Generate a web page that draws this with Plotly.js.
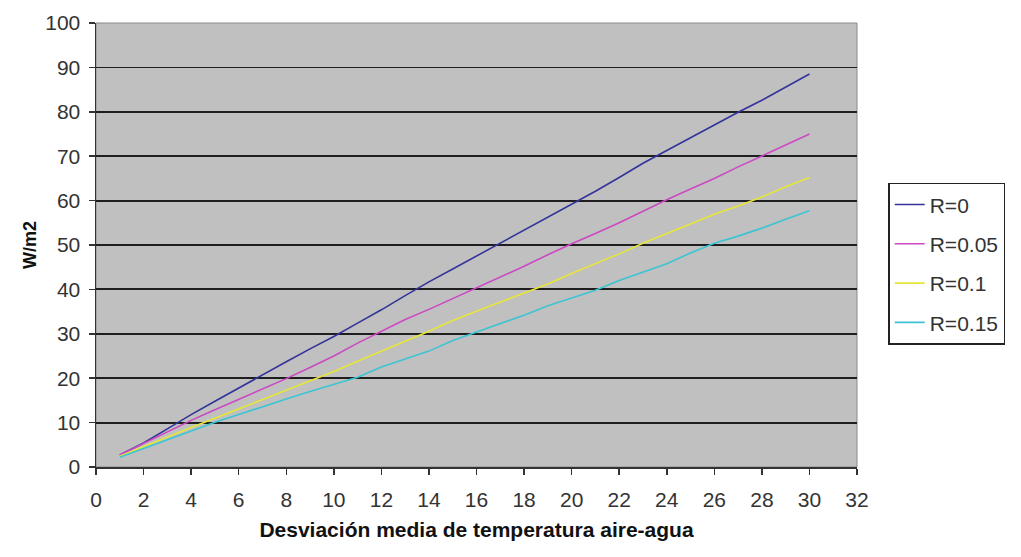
<!DOCTYPE html>
<html>
<head>
<meta charset="utf-8">
<script src="https://cdn.plot.ly/plotly-3.0.1.min.js"></script>
<style>
html,body{margin:0;padding:0;background:#fff;}
#chart{width:1021px;height:557px;}
</style>
</head>
<body>
<div id="chart"></div>
<script>
var xValues = [1,2,3,4,5,6,7,8,9,10,11,12,13,14,15,16,17,18,19,20,21,22,23,24,25,26,27,28,29,30];
var seriesNames = ["R=0","R=0.05","R=0.1","R=0.15"];
var r0   = [2.7,5.4,8.6,11.8,14.8,17.8,20.8,23.7,26.6,29.4,32.4,35.4,38.6,41.7,44.6,47.5,50.5,53.4,56.3,59.1,62.1,65.2,68.4,71.3,74.2,77.1,79.9,82.6,85.6,88.5];
var r005 = [2.7,5.3,7.9,10.5,12.9,15.2,17.6,19.9,22.4,25.0,27.9,30.6,33.2,35.5,37.9,40.3,42.7,45.2,47.8,50.3,52.6,55.0,57.6,60.2,62.6,65.0,67.6,70.0,72.5,75.0];
var r01  = [2.4,4.6,6.8,8.9,11.0,13.1,15.2,17.3,19.3,21.5,23.8,26.0,28.3,30.6,33.0,35.1,37.1,39.2,41.2,43.6,45.8,48.0,50.4,52.6,54.8,56.9,58.8,60.8,63.1,65.2];
var r015 = [2.2,4.2,6.2,8.1,10.1,11.8,13.6,15.3,17.0,18.6,20.2,22.5,24.3,26.1,28.5,30.4,32.3,34.2,36.3,38.0,39.8,42.0,43.9,45.8,48.2,50.4,52.0,53.8,55.8,57.7];
var xTickVals = [0,2,4,6,8,10,12,14,16,18,20,22,24,26,28,30,32];
var yTickVals = [0,10,20,30,40,50,60,70,80,90,100];
var colors = ["#33339a","#cc49c4","#e6e63a","#3cc4d2"];

var allY = [r0, r005, r01, r015];
var traces = allY.map(function(ys, i){
  return {
    x: xValues, y: ys, name: seriesNames[i], type: "scatter", mode: "lines",
    legendgroup: "g" + i,
    line: {color: colors[i], width: 1.6}
  };
});

var fam = "Liberation Sans, Arial, sans-serif";
var font = {family: fam, size: 21, color: "#333"};
var layout = {
  width: 1021, height: 557,
  margin: {l: 96, r: 164, t: 23, b: 90},
  paper_bgcolor: "#ffffff",
  plot_bgcolor: "#c0c0c0",
  font: font,
  showlegend: true,
  legend: {
    x: 1.041, y: 0.64, xanchor: "left", yanchor: "top",
    bordercolor: "#222", borderwidth: 1.5, bgcolor: "#ffffff",
    font: {family: fam, size: 21, color: "#333"},
    tracegroupgap: 9, itemwidth: 30
  },
  xaxis: {
    range: [0, 32], tickvals: xTickVals, ticktext: xTickVals.map(String),
    showgrid: false, zeroline: false,
    showline: true, linecolor: "#333", linewidth: 1.5,
    ticks: "outside", ticklen: 6, tickcolor: "#333", tickwidth: 1.5,
    tickfont: font, ticklabelstandoff: 7,
    title: {text: "<b>Desviación media de temperatura aire-agua</b>", font: {family: fam, size: 21, color: "#111"}, standoff: 12}
  },
  yaxis: {
    range: [0, 100], tickvals: yTickVals, ticktext: yTickVals.map(String),
    showgrid: true, gridcolor: "#1e1e1e", gridwidth: 1.8, zeroline: false,
    showline: true, linecolor: "#333", linewidth: 1.5,
    ticks: "outside", ticklen: 6, tickcolor: "#333", tickwidth: 1.5,
    tickfont: font, ticklabelstandoff: 4,
    title: {text: "<b>W/m2</b>", font: {family: fam, size: 18, color: "#111"}, standoff: 4}
  },
  shapes: [{
    type: "rect", xref: "paper", yref: "paper", x0: 0, x1: 1, y0: 0, y1: 1,
    line: {color: "#8a8a8a", width: 1}, fillcolor: "rgba(0,0,0,0)", layer: "below"
  }]
};

Plotly.newPlot("chart", traces, layout, {displayModeBar: false, staticPlot: true});
</script>
</body>
</html>
